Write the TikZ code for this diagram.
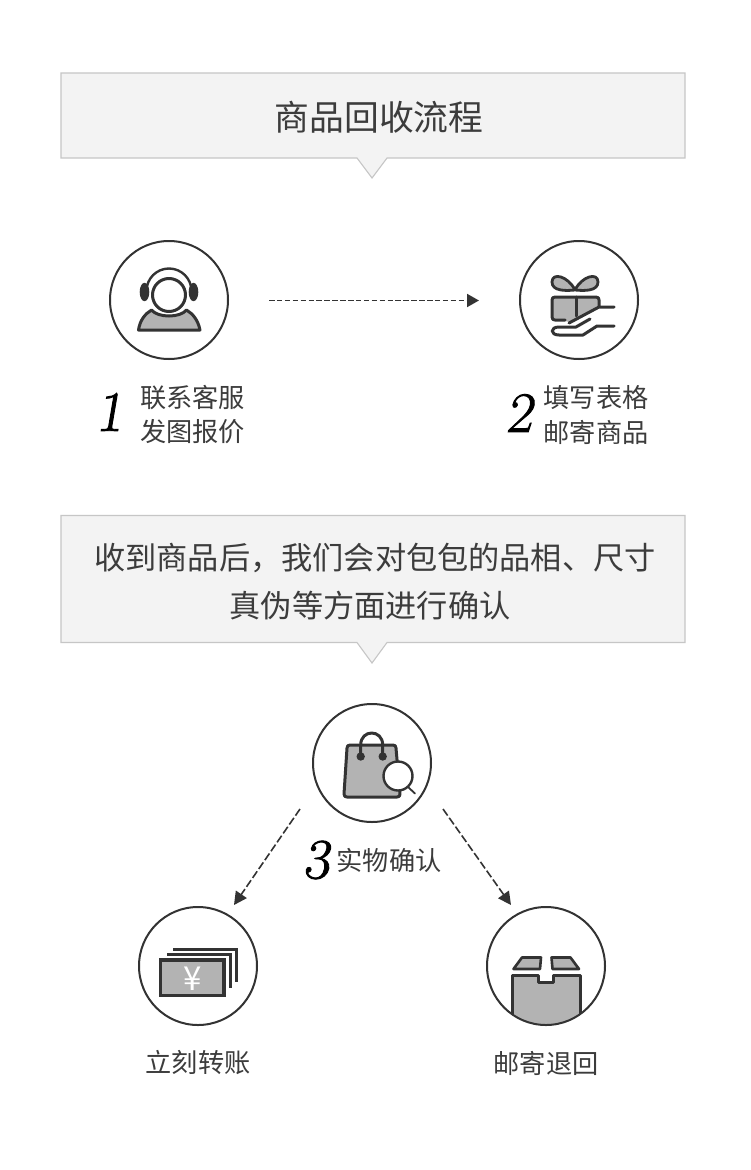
\documentclass[tikz,border=0pt]{standalone}
\usepackage{fontspec}
\newfontfamily\cjk{Noto Sans CJK SC}
\newfontfamily\numf[FakeSlant=0.17,FakeBold=1.6]{Latin Modern Roman}
\usetikzlibrary{arrows.meta}
\definecolor{ink}{HTML}{333333}
\definecolor{txt}{HTML}{3C3C3C}
\definecolor{boxfill}{HTML}{F3F3F3}
\definecolor{boxline}{HTML}{C6C6C6}
\definecolor{icon}{HTML}{B3B3B3}
\tikzset{
  banner/.style={fill=boxfill,draw=boxline,line width=1.1pt,line join=miter},
  ring/.style={circle,draw=ink,line width=2pt,minimum size=118pt,inner sep=0pt},
  flow/.style={draw=ink,line width=1.9pt,dash pattern=on 5.5pt off 2.4pt,-{Triangle[length=12pt,width=13pt]}},
  flowd/.style={draw=ink,line width=1.6pt,dash pattern=on 8pt off 2.8pt,-{Triangle[length=13pt,width=13pt]}},
  ico/.style={draw=ink,line width=3pt,fill=icon,line join=round,line cap=round},
  icl/.style={draw=ink,line width=3pt,line join=round,line cap=round},
  capt/.style={text=txt,font=\cjk\fontsize{26.2}{30}\selectfont,inner sep=0pt,anchor=center},
  head/.style={text=txt,font=\cjk\fontsize{31.2}{36}\selectfont,inner sep=0pt,anchor=center},
  num/.style={text=black,font=\numf\fontsize{57}{62}\selectfont,inner sep=0pt,anchor=center}
}
\begin{document}
\begin{tikzpicture}[x=1pt,y=-1pt]
\useasboundingbox (0,0) rectangle (750,1170);
\fill[white] (0,0) rectangle (750,1170);
% banners
\path[banner] (61,73) -- (685,73) -- (685,158) -- (387,158) -- (372,178) -- (357,158) -- (61,158) -- cycle;
\path[banner] (61,515.5) -- (685,515.5) -- (685,642.5) -- (387,642.5) -- (372,663) -- (357,642.5) -- (61,642.5) -- cycle;
\node[head,font=\cjk\fontsize{34.8}{38}\selectfont] (t1) at (379,117) {商品回收流程};
\node[head] (t2) at (375,558) {收到商品后，我们会对包包的品相、尺寸};
\node[head] (t3) at (370,606) {真伪等方面进行确认};
% icon 1: headset
\path[ico] (138.5,330) .. controls (140,320) and (145,314) .. (151.5,310) .. controls (158,318) and (180,318) .. (186.5,310) .. controls (193,314) and (198,320) .. (200,330) -- cycle;
\draw[icl,line width=2.4pt] (146.5,291) arc[start angle=180,end angle=360,radius=22.5];
\fill[ink] (144.5,292) ellipse[x radius=4.8,y radius=9.2];
\fill[ink] (193.5,292) ellipse[x radius=4.8,y radius=9.2];
\draw[icl,fill=white] (169,295) circle[radius=16.5];
% icon 2: gift and hand
\path[ico,line width=2.8pt] (575,290) .. controls (568,276) and (552,272) .. (552,282) .. controls (552,291) and (565,291) .. (575,290) .. controls (585,291) and (598,291) .. (598,282) .. controls (598,272) and (582,276) .. (575,290) -- cycle;
\path[fill=icon] (553,298) -- (598,298) -- (598,307) -- (572,322) -- (553,320) -- cycle;
\draw[icl] (565,320) -- (555,320) .. controls (553,320) and (552,319) .. (552,317) -- (552,300) .. controls (552,298) and (553,297) .. (555,297) -- (596,297) .. controls (598,297) and (599,298) .. (599,300) -- (599,306);
\draw[icl] (576,297) -- (576,316);
\draw[icl] (614,307) -- (599,307) -- (569,323);
\draw[icl] (614,326) -- (597,326) -- (583,335) -- (559,335) .. controls (550,335) and (550,327) .. (559,327) -- (576,327) -- (590,319);
% icon 3: bag
\path[ico] (350,745) -- (393,745) .. controls (395,745) and (396,746) .. (396,748) -- (400,794) .. controls (400,796) and (399,797) .. (397,797) -- (347,797) .. controls (345,797) and (344,796) .. (344,794) -- (347,748) .. controls (347,746) and (348,745) .. (350,745) -- cycle;
\draw[icl] (360.7,757) -- (360.7,745) .. controls (360.7,729) and (382.7,729) .. (382.7,745) -- (382.7,757);
\fill[ink] (360.7,756.5) circle[radius=4.2] (382.7,756.5) circle[radius=4.2];
\draw[icl,line width=1.8pt] (408,787) -- (415,793.5);
\draw[icl,fill=white,line width=2.4pt] (398,776) circle[radius=14.5];
% icon 4: money
\draw[draw=ink,line width=3pt] (173,949) -- (236.5,949) -- (236.5,982);
\draw[draw=ink,line width=3pt] (167,954) -- (230.5,954) -- (230.5,988);
\path[draw=ink,line width=3.2pt,fill=icon] (160.5,960) rectangle (224,995.5);
\node[inner sep=0pt,text=white,font=\cjk\fontsize{33}{36}\selectfont] (yen) at (193,979) {¥};
% icon 5: box
\begin{scope}
\clip (546,966) circle[radius=59];
\path[ico] (512.5,975) -- (538.5,975) -- (538.5,982) -- (553,982) -- (553,975) -- (580,975) -- (580,1030) -- (512.5,1030) -- cycle;
\end{scope}
\path[ico,line width=2.6pt] (522,957.5) -- (541,957.5) -- (540,969) -- (513.5,969) -- cycle;
\path[ico,line width=2.6pt] (551.5,957.5) -- (570.5,957.5) -- (579,969) -- (552.5,969) -- cycle;
% rings
\node[ring] (c1) at (169,300) {};
\node[ring] (c2) at (579,300) {};
\node[ring] (c3) at (372,763) {};
\node[ring] (c4) at (198,966) {};
\node[ring] (c5) at (546,966) {};
% connectors
\coordinate (a1) at (269,300.5);
\coordinate (a2) at (479,300.5);
\coordinate (b1) at (300,809);
\coordinate (b2) at (234,905);
\coordinate (d1) at (443,809);
\coordinate (d2) at (511,905);
\draw[flow] (a1) -- (a2);
\draw[flowd] (b1) -- (b2);
\draw[flowd] (d1) -- (d2);
% captions
\node[capt] (l1a) at (192.5,397.5) {联系客服};
\node[capt] (l1b) at (192.5,431.5) {发图报价};
\node[num] (n1) at (109,412) {1};
\node[capt] (l2a) at (596,398) {填写表格};
\node[capt] (l2b) at (596,432) {邮寄商品};
\node[num] (n2) at (519,413) {2};
\node[num] (n3) at (316,860) {3};
\node[capt] (l3) at (389,860) {实物确认};
\node[capt] (l4) at (198,1063) {立刻转账};
\node[capt] (l5) at (546,1063) {邮寄退回};
\end{tikzpicture}
\end{document}
